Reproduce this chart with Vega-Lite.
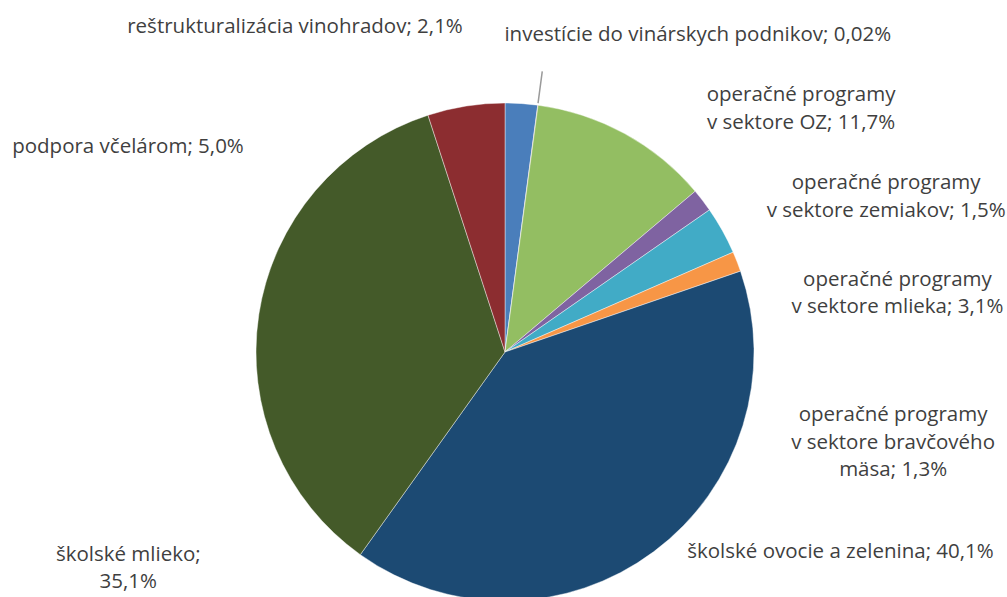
{
  "$schema": "https://vega.github.io/schema/vega-lite/v6.json",
  "width": 1004,
  "height": 490,
  "autosize": "none",
  "padding": {"left": 3, "top": 107, "right": 0, "bottom": 0},
  "background": "white",
  "config": {
    "view": {"stroke": null},
    "text": {"font": "Open Sans", "fontSize": 20.5, "color": "#3F3F3F", "lineHeight": 27.5, "lineBreak": "\n", "align": "center", "baseline": "middle", "radius": 249}
  },
  "data": {
    "values": [
      {"order": 1, "cat": "reštrukturalizácia vinohradov", "value": 2.1, "label": "reštrukturalizácia vinohradov; 2,1%"},
      {"order": 2, "cat": "investície do vinárskych podnikov", "value": 0.02, "label": "investície do vinárskych podnikov; 0,02%"},
      {"order": 3, "cat": "operačné programy v sektore OZ", "value": 11.7, "label": "operačné programy\nv sektore OZ; 11,7%"},
      {"order": 4, "cat": "operačné programy v sektore zemiakov", "value": 1.5, "label": "operačné programy\nv sektore zemiakov; 1,5%"},
      {"order": 5, "cat": "operačné programy v sektore mlieka", "value": 3.1, "label": "operačné programy\nv sektore mlieka; 3,1%"},
      {"order": 6, "cat": "operačné programy v sektore bravčového mäsa", "value": 1.3, "label": "operačné programy\nv sektore bravčového\nmäsa; 1,3%"},
      {"order": 7, "cat": "školské ovocie a zelenina", "value": 40.1, "label": "školské ovocie a zelenina; 40,1%"},
      {"order": 8, "cat": "školské mlieko", "value": 35.1, "label": "školské mlieko;\n35,1%"},
      {"order": 9, "cat": "podpora včelárom", "value": 5.0, "label": "podpora včelárom; 5,0%"}
    ]
  },
  "transform": [
    {"stack": "value", "groupby": [], "sort": [{"field": "order", "order": "ascending"}], "as": ["v0", "v1"]}
  ],
  "layer": [
    {
      "mark": {"type": "arc", "outerRadius": 249, "stroke": "#ffffff", "strokeWidth": 0.6, "strokeOpacity": 0.7},
      "encoding": {
        "theta": {"field": "v0", "type": "quantitative", "scale": {"domain": [0, 99.92]}},
        "theta2": {"field": "v1"},
        "color": {
          "field": "cat",
          "type": "nominal",
          "legend": null,
          "scale": {
            "domain": ["reštrukturalizácia vinohradov", "investície do vinárskych podnikov", "operačné programy v sektore OZ", "operačné programy v sektore zemiakov", "operačné programy v sektore mlieka", "operačné programy v sektore bravčového mäsa", "školské ovocie a zelenina", "školské mlieko", "podpora včelárom"],
            "range": ["#4A7EBB", "#BE4B48", "#93BE62", "#7F63A1", "#41ABC6", "#F79646", "#1C4A73", "#445A29", "#8C2D30"]
          }
        }
      }
    },
    {
      "transform": [{"filter": "datum.order == 2"}],
      "mark": {"type": "arc", "radius": 283, "radius2": 251, "stroke": "#9A9A9A", "strokeWidth": 1.5, "fill": null},
      "encoding": {
        "theta": {"field": "v0", "type": "quantitative", "scale": {"domain": [0, 99.92]}},
        "theta2": {"field": "v0"}
      }
    },
    {"transform": [{"filter": "datum.order == 1"}], "mark": {"type": "text", "dx": -210, "dy": -76}, "encoding": {"theta": {"field": "v0", "type": "quantitative", "scale": {"domain": [0, 99.92]}}, "text": {"field": "label"}}},
    {"transform": [{"filter": "datum.order == 2"}], "mark": {"type": "text", "dx": 160, "dy": -70}, "encoding": {"theta": {"field": "v0", "type": "quantitative", "scale": {"domain": [0, 99.92]}}, "text": {"field": "label"}}},
    {"transform": [{"filter": "datum.order == 3"}], "mark": {"type": "text", "dx": 263, "dy": -10}, "encoding": {"theta": {"field": "v0", "type": "quantitative", "scale": {"domain": [0, 99.92]}}, "text": {"field": "label"}}},
    {"transform": [{"filter": "datum.order == 4"}], "mark": {"type": "text", "dx": 191, "dy": -8}, "encoding": {"theta": {"field": "v0", "type": "quantitative", "scale": {"domain": [0, 99.92]}}, "text": {"field": "label"}}},
    {"transform": [{"filter": "datum.order == 5"}], "mark": {"type": "text", "dx": 188, "dy": 70}, "encoding": {"theta": {"field": "v0", "type": "quantitative", "scale": {"domain": [0, 99.92]}}, "text": {"field": "label"}}},
    {"transform": [{"filter": "datum.order == 6"}], "mark": {"type": "text", "dx": 160, "dy": 163}, "encoding": {"theta": {"field": "v0", "type": "quantitative", "scale": {"domain": [0, 99.92]}}, "text": {"field": "label"}}},
    {"transform": [{"filter": "datum.order == 7"}], "mark": {"type": "text", "dx": 100, "dy": 281}, "encoding": {"theta": {"field": "v0", "type": "quantitative", "scale": {"domain": [0, 99.92]}}, "text": {"field": "label"}}},
    {"transform": [{"filter": "datum.order == 8"}], "mark": {"type": "text", "dx": -232, "dy": 0}, "encoding": {"theta": {"field": "v0", "type": "quantitative", "scale": {"domain": [0, 99.92]}}, "text": {"field": "label"}}},
    {"transform": [{"filter": "datum.order == 9"}], "mark": {"type": "text", "dx": -300, "dy": 32}, "encoding": {"theta": {"field": "v0", "type": "quantitative", "scale": {"domain": [0, 99.92]}}, "text": {"field": "label"}}}
  ]
}
